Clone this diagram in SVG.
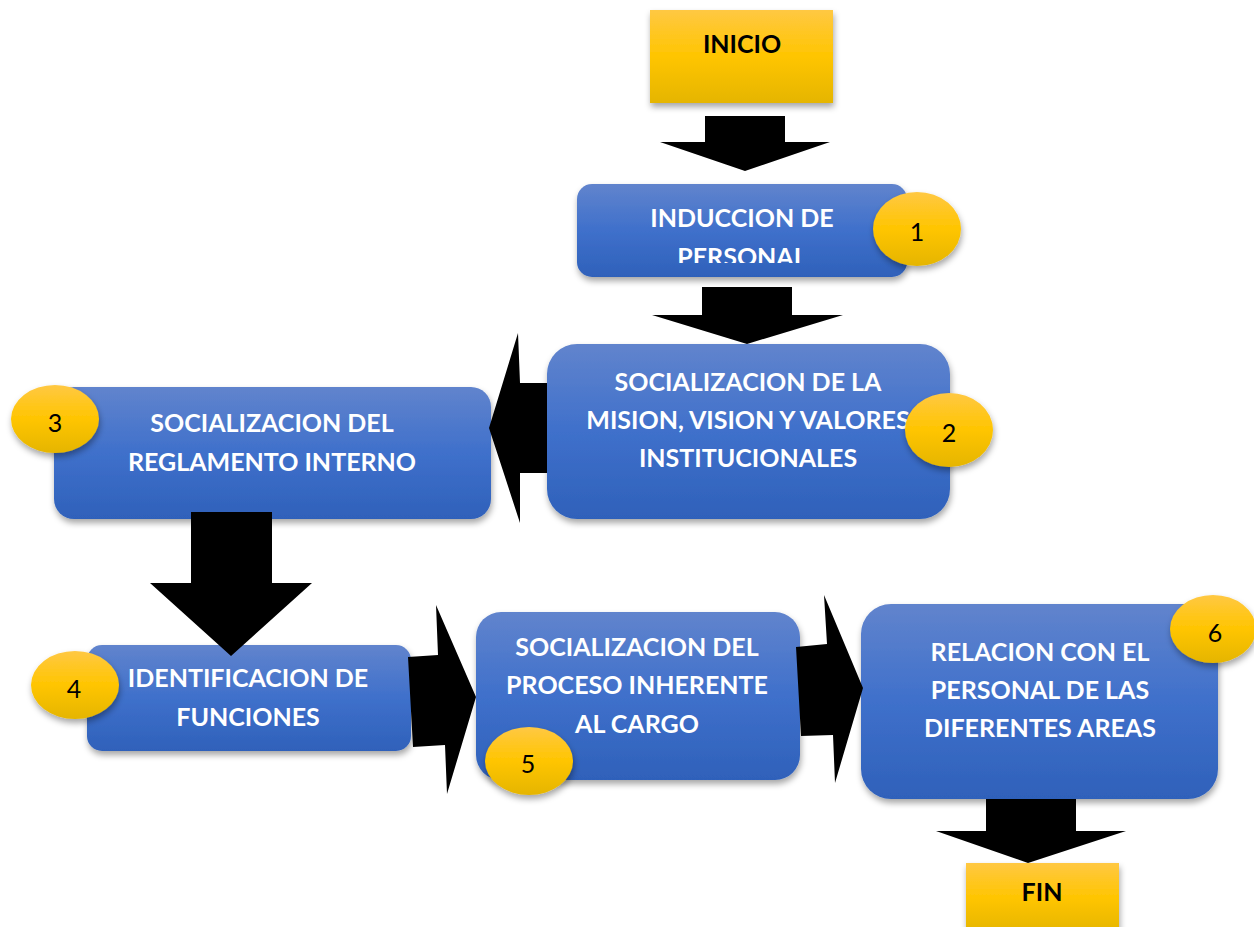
<svg xmlns="http://www.w3.org/2000/svg" width="1254" height="927" viewBox="0 0 1254 927">
<defs>
<linearGradient id="gBlue" x1="0" y1="0" x2="0" y2="1">
<stop offset="0" stop-color="#6184CD"/>
<stop offset="0.5" stop-color="#3F70CB"/>
<stop offset="1" stop-color="#2F61BA"/>
</linearGradient>
<linearGradient id="gGold" x1="0" y1="0" x2="0" y2="1">
<stop offset="0" stop-color="#FFC843"/>
<stop offset="0.5" stop-color="#FFC500"/>
<stop offset="1" stop-color="#E5B500"/>
</linearGradient>
<filter id="sh" x="-20%" y="-20%" width="140%" height="150%">
<feDropShadow dx="1" dy="4" stdDeviation="3" flood-color="#000" flood-opacity="0.35"/>
</filter>
<clipPath id="clip1"><rect x="577" y="184" width="330" height="79"/></clipPath>
</defs>
<style>
.box{fill:url(#gBlue);filter:url(#sh)}
.gold{fill:url(#gGold);filter:url(#sh)}
.wt{font-family:Lato,'Liberation Sans',sans-serif;font-weight:bold;font-size:25px;fill:#fff;text-anchor:middle}
.bt{font-family:Lato,'Liberation Sans',sans-serif;font-weight:bold;font-size:25px;fill:#000;text-anchor:middle}
.num{font-family:Lato,'Liberation Sans',sans-serif;font-size:25px;fill:#000;text-anchor:middle}
.arr{fill:#000}
</style>
<rect width="1254" height="927" fill="#fff"/>

<g id="inicio">
<rect class="gold" x="650" y="10" width="183" height="93"/>
<text class="bt" x="742" y="53">INICIO</text>
</g>

<g id="n1">
<rect class="box" x="577" y="184" width="330" height="93" rx="15"/>
<g clip-path="url(#clip1)">
<text class="wt" x="742" y="227">INDUCCION DE</text>
<text class="wt" x="742" y="266">PERSONAL</text>
</g>
<ellipse class="gold" cx="917" cy="229" rx="44" ry="37"/>
<text class="num" x="917" y="241">1</text>
</g>

<g id="n2">
<rect class="box" x="547" y="344" width="403" height="175" rx="30"/>
<text class="wt" x="748" y="391">SOCIALIZACION DE LA</text>
<text class="wt" x="748" y="429">MISION, VISION Y VALORES</text>
<text class="wt" x="748" y="467">INSTITUCIONALES</text>
<ellipse class="gold" cx="949" cy="430" rx="44" ry="37"/>
<text class="num" x="949" y="442">2</text>
</g>

<g id="n3">
<rect class="box" x="54" y="387" width="437" height="132" rx="20"/>
<text class="wt" x="272" y="432">SOCIALIZACION DEL</text>
<text class="wt" x="272" y="471">REGLAMENTO INTERNO</text>
<ellipse class="gold" cx="55" cy="419" rx="44" ry="34"/>
<text class="num" x="55" y="432">3</text>
</g>

<g id="n4">
<rect class="box" x="87" y="645" width="324" height="106" rx="15"/>
<text class="wt" x="248" y="687">IDENTIFICACION DE</text>
<text class="wt" x="248" y="726">FUNCIONES</text>
<ellipse class="gold" cx="75" cy="685" rx="44" ry="34"/>
<text class="num" x="74" y="698">4</text>
</g>

<g id="n5">
<rect class="box" x="476" y="612" width="324" height="168" rx="25"/>
<text class="wt" x="637" y="656">SOCIALIZACION DEL</text>
<text class="wt" x="637" y="694">PROCESO INHERENTE</text>
<text class="wt" x="637" y="733">AL CARGO</text>
<ellipse class="gold" cx="529" cy="761" rx="44" ry="34"/>
<text class="num" x="528" y="773">5</text>
</g>

<g id="n6">
<rect class="box" x="861" y="604" width="357" height="195" rx="30"/>
<text class="wt" x="1040" y="661">RELACION CON EL</text>
<text class="wt" x="1040" y="699">PERSONAL DE LAS</text>
<text class="wt" x="1040" y="737">DIFERENTES AREAS</text>
<ellipse class="gold" cx="1213" cy="629" rx="43" ry="34"/>
<text class="num" x="1215" y="642">6</text>
</g>

<g id="fin">
<rect class="gold" x="966" y="863" width="153" height="70"/>
<text class="bt" x="1042" y="901">FIN</text>
</g>

<g id="connectors">
<polygon class="arr" points="705,116 785,116 785,142 830,142 745,171 660,142 705,142"/>
<polygon class="arr" points="702,287 792,287 792,315 843,315 747,344 652,315 702,315"/>
<polygon class="arr" points="547,383 520,383 518,333 489,428 520,523 520,473 547,473"/>
<polygon class="arr" points="191,512 272,512 272,583 312,583 231,656 150,583 191,583"/>
<polygon class="arr" points="408,657 438,655 436,605 476,697 447,794 445,745 413,747"/>
<polygon class="arr" points="796,647 827,644 824,595 863,688 835,783 833,735 801,736"/>
<polygon class="arr" points="986,799 1076,799 1076,831 1126,831 1028,863 936,831 986,831"/>
</g>
</svg>
